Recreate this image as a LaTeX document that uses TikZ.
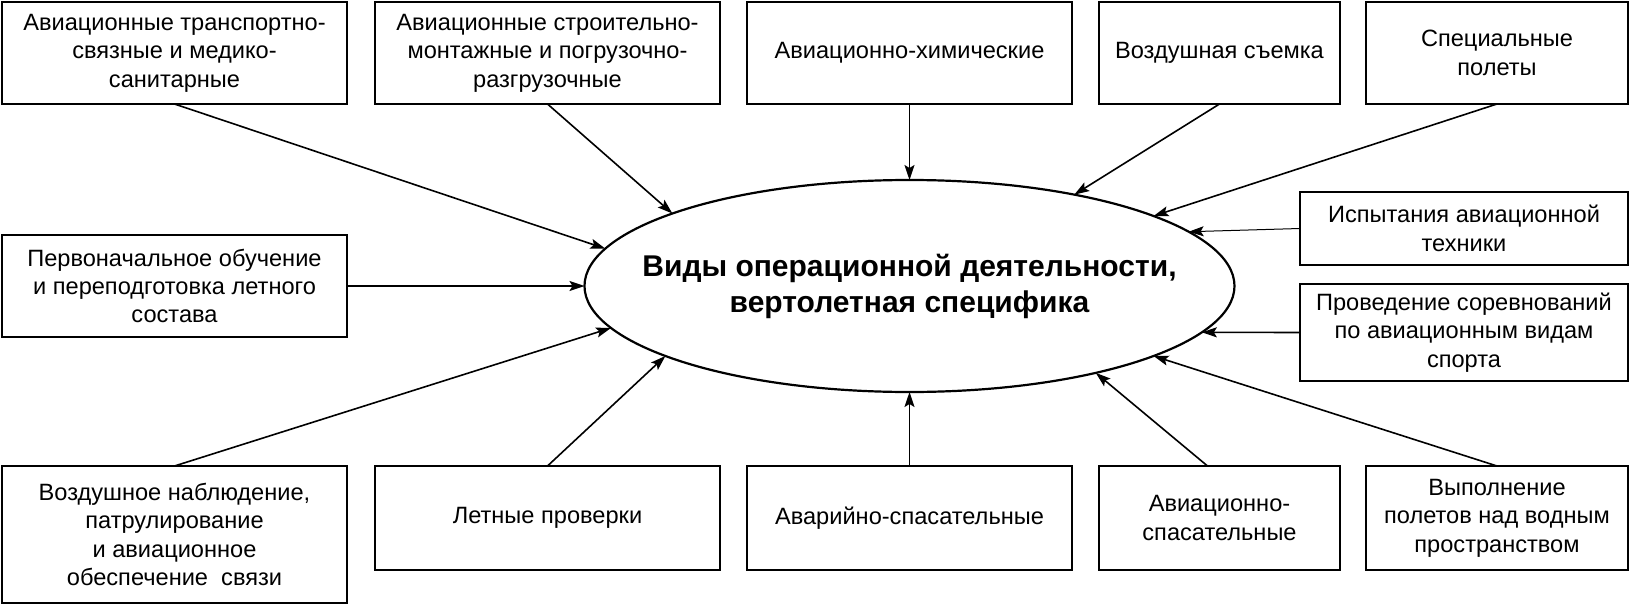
\documentclass[tikz,border=0pt]{standalone}
\usepackage{fontspec}
\setmainfont{Liberation Sans}
\usetikzlibrary{arrows.meta,shapes.geometric}
\begin{document}
\begin{tikzpicture}[x=0.5pt,y=-0.5pt,
  box/.style={draw, line width=1.1pt, inner sep=0pt, outer sep=0pt, align=center,
    font=\fontsize{11.8}{14.2}\selectfont},
  arr/.style={-{Stealth[length=7.5pt,width=5pt,inset=1.5pt]}, line width=0.8pt},
  thinarr/.style={arr, line width=0.5pt}]
\useasboundingbox (0,0) rectangle (1630,605);
% top row
\node[box, minimum width=172.5pt, minimum height=51pt] (T1) at (174.5,53)
  {Авиационные транспортно-\\связные и медико-\\санитарные};
\node[box, minimum width=172.5pt, minimum height=51pt] (T2) at (547.5,53)
  {Авиационные строительно-\\монтажные и погрузочно-\\разгрузочные};
\node[box, minimum width=162.5pt, minimum height=51pt] (T3) at (909.5,53)
  {Авиационно-химические};
\node[box, minimum width=120.5pt, minimum height=51pt] (T4) at (1219.5,53)
  {Воздушная съемка};
\node[box, minimum width=131pt, minimum height=51pt] (T5) at (1497,53)
  {Специальные\\полеты};
% middle
\node[box, minimum width=172.5pt, minimum height=51pt] (M1) at (174.5,286)
  {Первоначальное обучение\\и переподготовка летного\\состава};
\node[box, minimum width=164pt, minimum height=36.5pt] (R1) at (1464,228.5)
  {Испытания авиационной\\техники};
\node[box, minimum width=164pt, minimum height=48.5pt] (R2) at (1464,332.5)
  {Проведение соревнований\\по авиационным видам\\спорта};
% bottom row
\node[box, minimum width=172.5pt, minimum height=68.5pt] (B1) at (174.5,534.5)
  {Воздушное наблюдение,\\патрулирование\\и авиационное\\обеспечение\ \ связи};
\node[box, minimum width=172.5pt, minimum height=52pt] (B2) at (547.5,518)
  {Летные проверки};
\node[box, minimum width=162.5pt, minimum height=52pt] (B3) at (909.5,518)
  {Аварийно-спасательные};
\node[box, minimum width=120.5pt, minimum height=52pt] (B4) at (1219.5,518)
  {Авиационно-\\спасательные};
\node[box, minimum width=131pt, minimum height=52pt] (B5) at (1497,518)
  {Выполнение\\полетов над водным\\пространством};
% centre ellipse
\node[draw, ellipse, line width=1.1pt, inner sep=0pt, outer sep=0pt,
  minimum width=325pt, minimum height=106pt] (E) at (909.5,286) {};
\node[align=center, font=\fontsize{15}{18}\selectfont\bfseries] (Etext) at (E.center)
  {Виды операционной деятельности,\\вертолетная специфика};
% connectors
\draw[arr] (T1.south) -- (E.173);
\draw[arr] (T2.south) -- (E.163.2);
\draw[arr] (T3.south) -- (E.north);
\draw[arr] (T4.south) -- (E.29.4);
\draw[arr] (T5.south) -- (E.16.1);
\draw[arr] (M1.east) -- (E.west);
\draw[thinarr] (R1.west) -- (E.11.89);
\draw[arr] (R2.west) -- (E.-9.05);
\draw[arr] (B1.north) -- (E.188.5);
\draw[arr] (B2.north) -- (E.-164.1);
\draw[arr] (B3.north) -- (E.south);
\draw[arr] ([xshift=-6pt]B4.north) -- (E.-25.5);
\draw[arr] (B5.north) -- (E.-16.2);
\end{tikzpicture}
\end{document}
